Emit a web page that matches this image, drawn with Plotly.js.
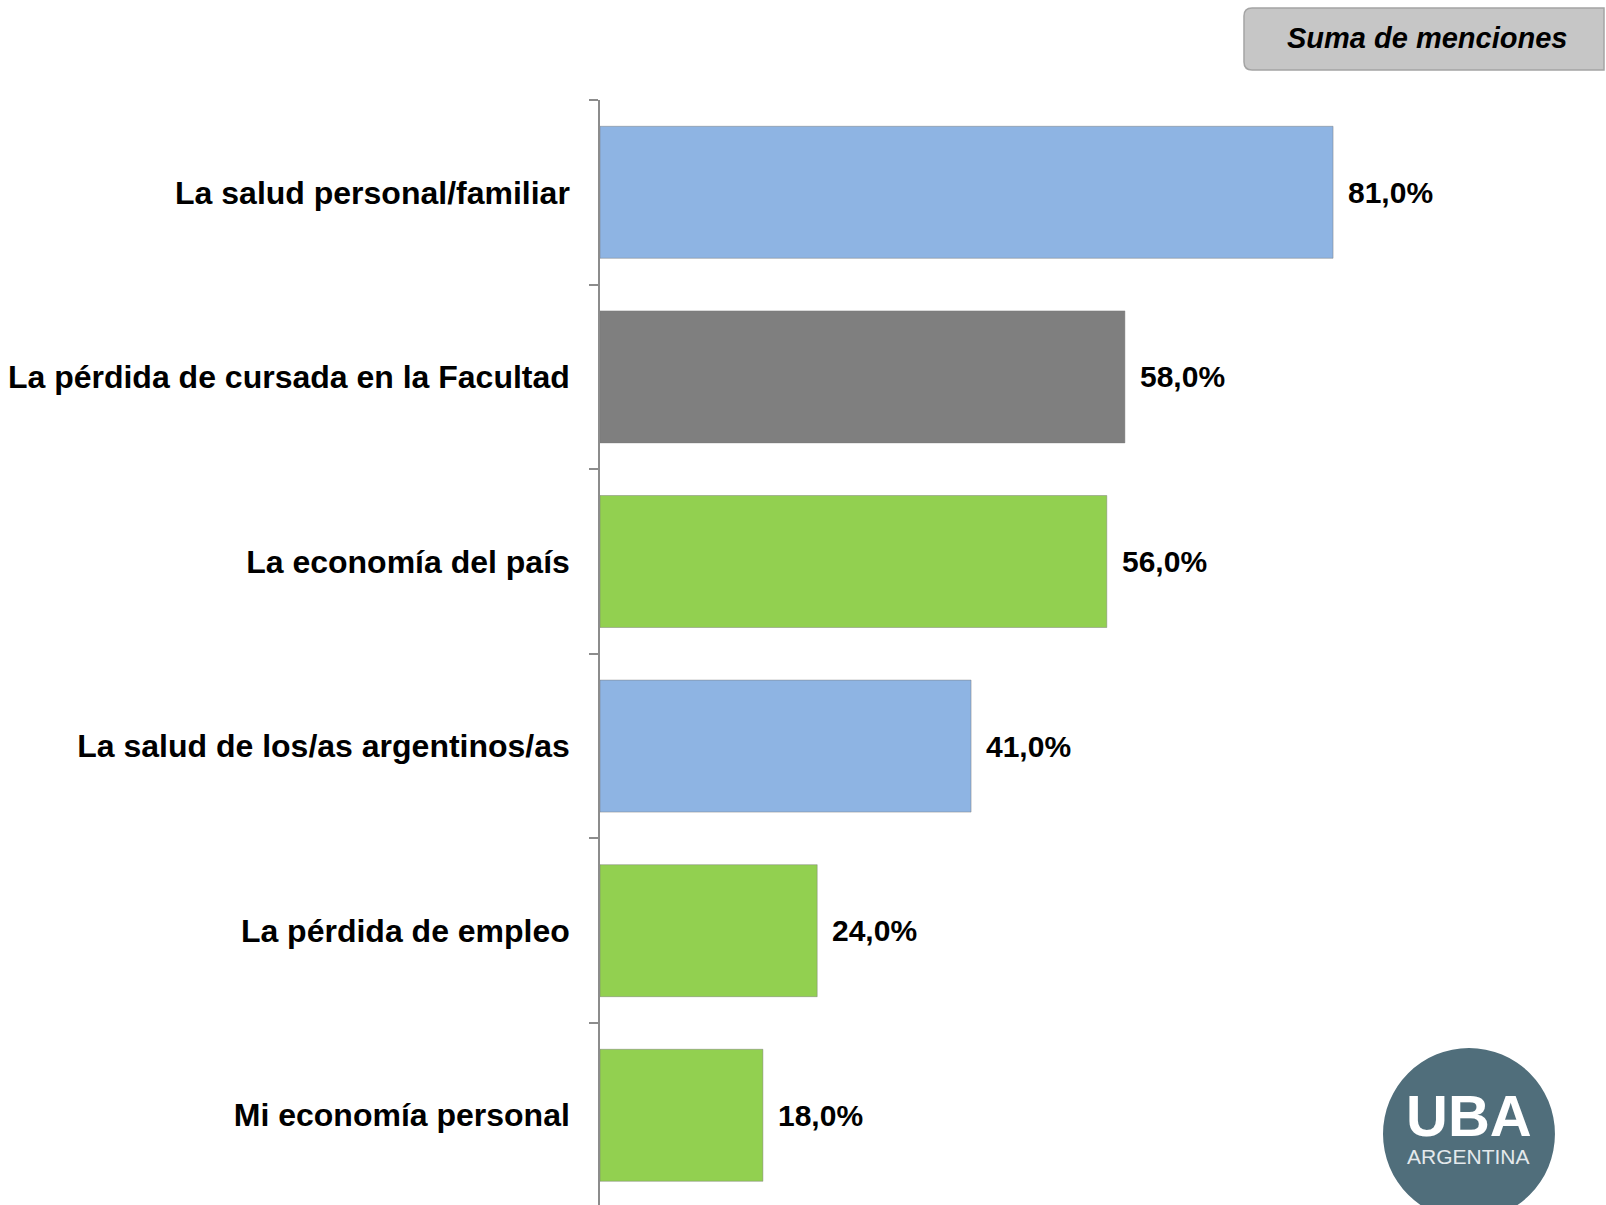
<!DOCTYPE html>
<html>
<head>
<meta charset="utf-8">
<script src="https://cdn.plot.ly/plotly-3.0.1.min.js"></script>
<style>
  html, body { margin: 0; padding: 0; background: #fff; }
  #chart { width: 1606px; height: 1205px; }
</style>
</head>
<body>
<div id="chart"></div>
<script>
// data
var categories = [
    'La salud personal/familiar',
    'La pérdida de cursada en la Facultad',
    'La economía del país',
    'La salud de los/as argentinos/as',
    'La pérdida de empleo',
    'Mi economía personal'
];
var values = [81, 58, 56, 41, 24, 18];
var barColors = ['#8EB4E3', '#7F7F7F', '#92D050', '#8EB4E3', '#92D050', '#92D050'];
var boxTitle = 'Suma de menciones';

var labelFont = 'Liberation Sans, Arial, sans-serif';

// value labels next to each bar
var valueLabels = values.map(function(v, i) {
    return {
        x: v,
        y: categories[i],
        xref: 'x',
        yref: 'y',
        text: v.toFixed(1).replace('.', ',') + '%',
        showarrow: false,
        xanchor: 'left',
        xshift: 13,
        font: { family: labelFont, size: 30, color: '#000', weight: 'bold' }
    };
});

var trace = {
    type: 'bar',
    orientation: 'h',
    x: values,
    y: categories,
    marker: {
        color: barColors,
        line: { color: 'rgba(120,120,120,0.45)', width: 1 }
    },
    hoverinfo: 'none'
};

// plot area: x 600..1505, y 100..1205
var layout = {
    width: 1606,
    height: 1205,
    margin: { l: 600, r: 101, t: 100, b: 0 },
    paper_bgcolor: '#fff',
    plot_bgcolor: '#fff',
    showlegend: false,
    bargap: 0.285,
    xaxis: {
        range: [0, 100],
        visible: false,
        fixedrange: true
    },
    yaxis: {
        type: 'category',
        range: [5.486, -0.5],
        showgrid: false,
        zeroline: false,
        showline: true,
        linecolor: '#8c8c8c',
        linewidth: 1.5,
        ticks: 'outside',
        tickson: 'boundaries',
        ticklen: 9,
        tickwidth: 1.5,
        tickcolor: '#8c8c8c',
        ticklabelstandoff: 22,
        tickfont: { family: labelFont, size: 32, color: '#000', weight: 'bold' },
        fixedrange: true
    },
    shapes: [
        // grey title box, top right
        {
            type: 'path',
            xref: 'paper', yref: 'paper',
            path: 'M 0.7205,1.0833 L 1.1094,1.0833 L 1.1094,1.0271 L 0.7205,1.0271 Q 0.7116,1.0271 0.7116,1.0343 L 0.7116,1.0761 Q 0.7116,1.0833 0.7205,1.0833 Z',
            fillcolor: '#c6c6c6',
            line: { color: '#a4a4a4', width: 1.5 },
            layer: 'above'
        },
        // UBA logo circle
        {
            type: 'circle',
            xref: 'paper', yref: 'paper',
            x0: 0.8652, x1: 1.0552, y0: -0.0136, y1: 0.1421,
            fillcolor: '#506E7B',
            line: { width: 0 },
            layer: 'above'
        }
    ],
    annotations: valueLabels.concat([
        {
            xref: 'paper', yref: 'paper',
            x: 0.9137, y: 1.0557,
            text: '<i>' + boxTitle + '</i>',
            showarrow: false,
            xanchor: 'center', yanchor: 'middle',
            font: { family: labelFont, size: 29, color: '#000', weight: 'bold' }
        },
        {
            xref: 'paper', yref: 'paper',
            x: 0.9602, y: 0.0808,
            text: 'UBA',
            showarrow: false,
            xanchor: 'center', yanchor: 'middle',
            font: { family: labelFont, size: 58, color: '#fff', weight: 'bold' }
        },
        {
            xref: 'paper', yref: 'paper',
            x: 0.9602, y: 0.0436,
            text: 'ARGENTINA',
            showarrow: false,
            xanchor: 'center', yanchor: 'middle',
            font: { family: labelFont, size: 21, color: '#e4e9ec' }
        }
    ])
};

var config = { displayModeBar: false, responsive: false };

Plotly.newPlot('chart', [trace], layout, config);
</script>
</body>
</html>
